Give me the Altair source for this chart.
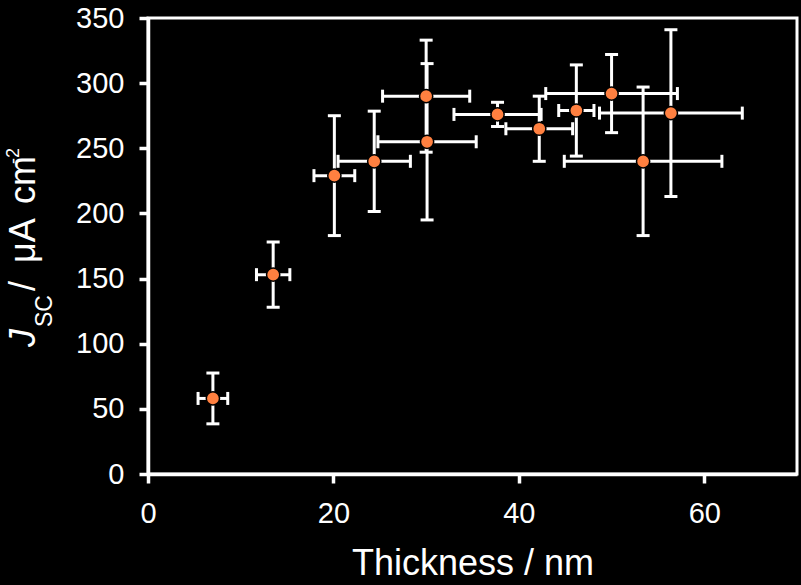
import altair as alt
import pandas as pd

# Data
thickness = [7.0, 13.5, 20.1, 24.4, 30.0, 30.1, 37.7, 42.2, 46.2, 50.0, 53.4, 56.4]
jsc = [58, 153, 229, 240, 290, 255, 276, 265, 279, 292, 240, 277]
x_err = [1.6, 1.8, 2.2, 3.9, 4.7, 5.3, 4.7, 3.6, 1.9, 7.1, 8.5, 7.7]
y_err = [19.5, 25, 46, 38.5, 43, 60, 9.3, 25, 35, 30, 57, 64]

x_ticks = [0, 20, 40, 60]
y_ticks = [0, 50, 100, 150, 200, 250, 300, 350]
x_title = "Thickness / nm"
y_title_parts = ["J", "SC", "/", "\u03bcA", "cm", "-2"]

df = pd.DataFrame({"t": thickness, "j": jsc, "xe": x_err, "ye": y_err})
df["xlo"] = df["t"] - df["xe"]
df["xhi"] = df["t"] + df["xe"]
df["ylo"] = df["j"] - df["ye"]
df["yhi"] = df["j"] + df["ye"]

FONT = "Liberation Sans"
WHITE = "white"

xs = alt.Scale(domain=[0, 70], nice=False, zero=False)
ys = alt.Scale(domain=[0, 350], nice=False, zero=False)

xaxis = alt.Axis(values=x_ticks, title=x_title, grid=False, domainColor=WHITE, domainWidth=3.5,
                 tickColor=WHITE, tickWidth=3.5, tickSize=9, labelColor=WHITE, labelFont=FONT,
                 labelFontSize=29, labelPadding=16, labelFlush=False,
                 titleColor=WHITE, titleFont=FONT,
                 titleFontSize=36, titleFontWeight="normal", titlePadding=18)
yaxis = alt.Axis(values=y_ticks, title=None, grid=False, domainColor=WHITE, domainWidth=3.5,
                 tickColor=WHITE, tickWidth=3.5, tickSize=9, labelColor=WHITE, labelFont=FONT,
                 labelFontSize=29, labelPadding=15, labelFlush=False)

base = alt.Chart(df)
LW = 3

hbar = base.mark_rule(color=WHITE, strokeWidth=LW).encode(
    x=alt.X("xlo:Q", scale=xs, axis=xaxis), x2="xhi:Q",
    y=alt.Y("j:Q", scale=ys, axis=yaxis))
vbar = base.mark_rule(color=WHITE, strokeWidth=LW).encode(
    x=alt.X("t:Q", scale=xs), y=alt.Y("ylo:Q", scale=ys), y2="yhi:Q")

cap_xlo = base.mark_tick(color=WHITE, orient="vertical", size=13, thickness=LW, opacity=1).encode(
    x=alt.X("xlo:Q", scale=xs), y=alt.Y("j:Q", scale=ys))
cap_xhi = base.mark_tick(color=WHITE, orient="vertical", size=13, thickness=LW, opacity=1).encode(
    x=alt.X("xhi:Q", scale=xs), y=alt.Y("j:Q", scale=ys))
cap_ylo = base.mark_tick(color=WHITE, orient="horizontal", size=13, thickness=LW, opacity=1).encode(
    x=alt.X("t:Q", scale=xs), y=alt.Y("ylo:Q", scale=ys))
cap_yhi = base.mark_tick(color=WHITE, orient="horizontal", size=13, thickness=LW, opacity=1).encode(
    x=alt.X("t:Q", scale=xs), y=alt.Y("yhi:Q", scale=ys))

points = base.mark_point(filled=True, shape="circle", size=175, fill="#FF8040", opacity=1,
                         stroke="black", strokeWidth=1.5).encode(
    x=alt.X("t:Q", scale=xs), y=alt.Y("j:Q", scale=ys))

# Y axis title pieces (rich text: italic J, subscript SC, superscript -2)
title_specs = [
    (y_title_parts[0], 36, "italic", -113, 329),
    (y_title_parts[1], 23, "normal", -96, 309),
    (y_title_parts[2], 36, "normal", -113, 273),
    (y_title_parts[3], 36, "normal", -113, 245),
    (y_title_parts[4], 36, "normal", -113, 186),
    (y_title_parts[5], 18, "normal", -129, 146),
]
title_layers = []
for txt, fs, style, px, py in title_specs:
    title_layers.append(
        alt.Chart(pd.DataFrame({"s": [txt]})).mark_text(
            font=FONT, fontSize=fs, fontStyle=style, color=WHITE, angle=270,
            align="left", baseline="alphabetic").encode(
            text="s:N", x=alt.value(px), y=alt.value(py)))

chart = alt.layer(hbar, vbar, cap_xlo, cap_xhi, cap_ylo, cap_yhi, points, *title_layers).properties(
    width=649, height=456,
    autosize=alt.AutoSizeParams(type="none"),
    padding={"left": 148, "top": 18, "right": 4, "bottom": 111},
    background="black",
).configure_view(stroke=WHITE, strokeWidth=3)

chart.save("out.html", embed_options={"renderer": "svg", "actions": False})
